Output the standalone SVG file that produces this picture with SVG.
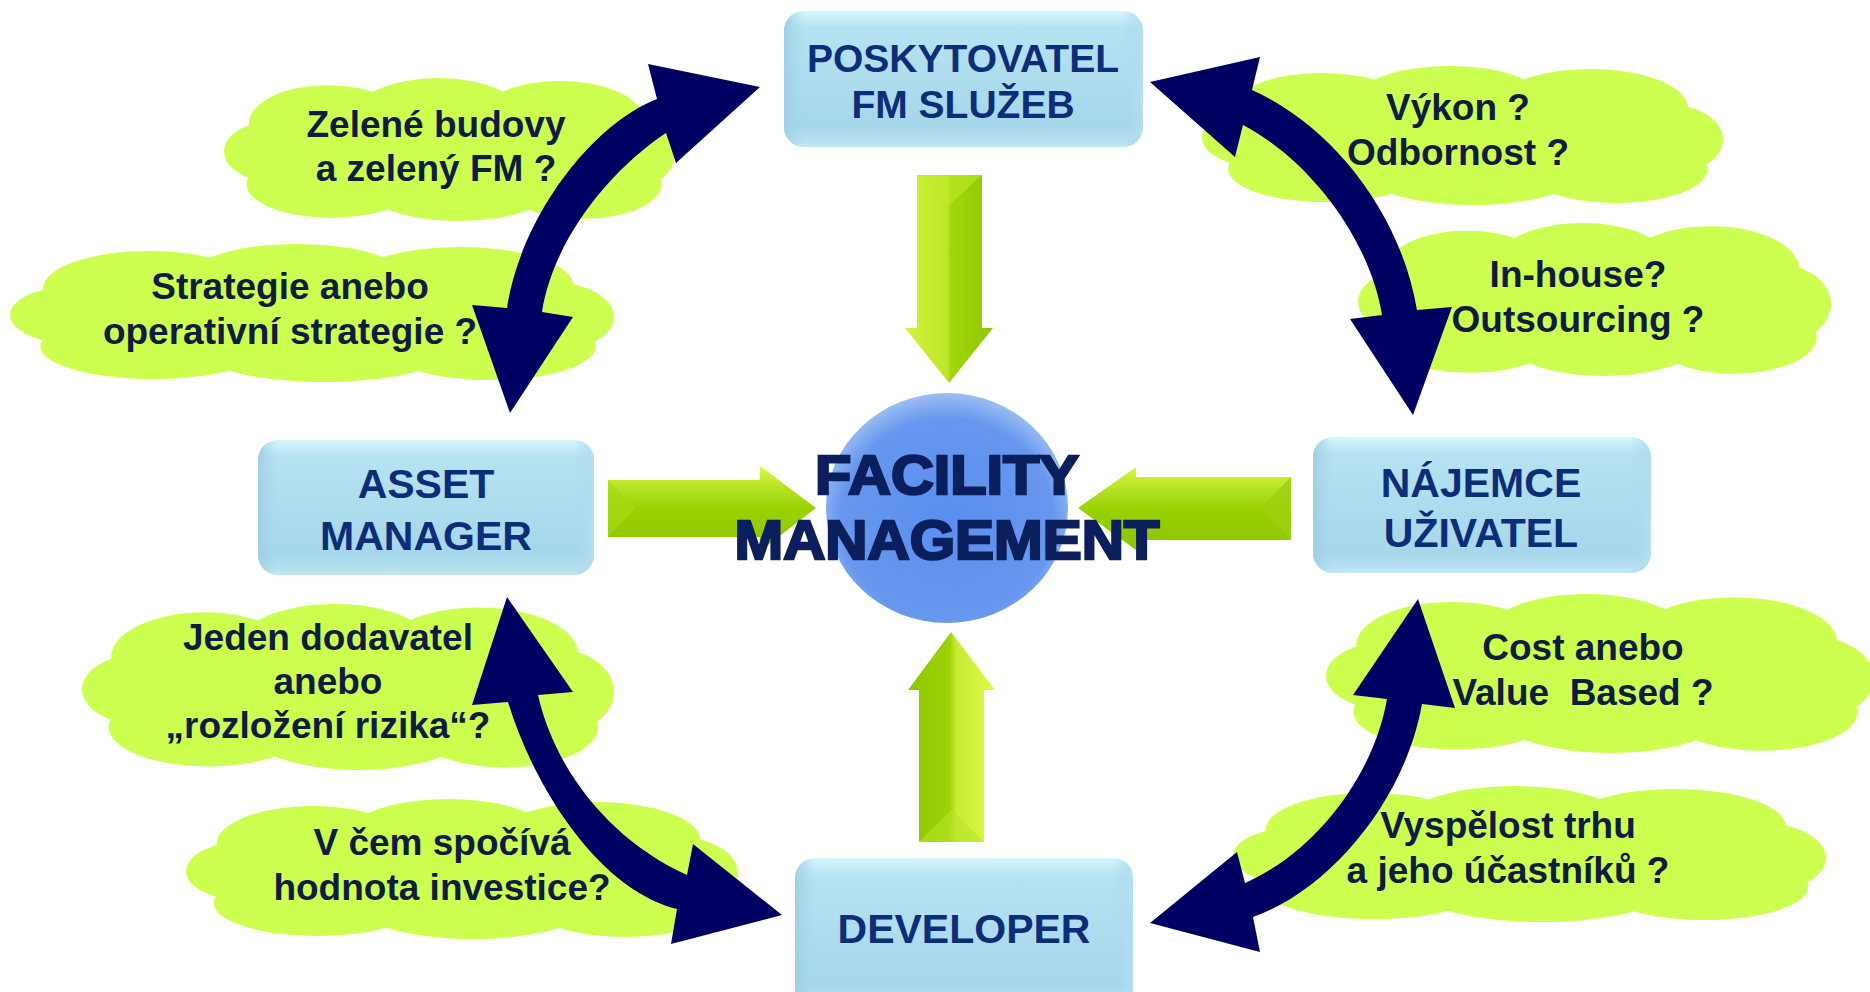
<svg xmlns="http://www.w3.org/2000/svg" xmlns:xlink="http://www.w3.org/1999/xlink" width="1870" height="992" viewBox="0 0 1870 992">
  <style>
    .cloud { fill: #ccff4f; }
    .ctext { font-family: "Liberation Sans", Arial, sans-serif; font-weight: bold; font-size: 37px; fill: #0f1c3f; text-anchor: middle; }
    .btext { font-family: "Liberation Sans", Arial, sans-serif; font-weight: bold; font-size: 41px; fill: #0b2d7a; text-anchor: middle; }
    .box { fill: url(#gBox); }
    .navy { fill: #000062; }
    .fm { font-family: "Liberation Sans", Arial, sans-serif; font-weight: bold; font-size: 55px; fill: #0a1f5c; stroke: #0a1f5c; stroke-width: 2.5; text-anchor: middle; }
  </style>
  <defs>
    <linearGradient id="gBox" x1="0" y1="0" x2="0" y2="1">
      <stop offset="0" stop-color="#d6f7fd"/>
      <stop offset="0.12" stop-color="#b6e3f2"/>
      <stop offset="0.85" stop-color="#a6d6ea"/>
      <stop offset="1" stop-color="#bfe6f3"/>
    </linearGradient>
    <linearGradient id="gBoxSide" x1="0" y1="0" x2="1" y2="0">
      <stop offset="0" stop-color="#9fcfe3"/>
      <stop offset="0.06" stop-color="#a9d8ec" stop-opacity="0"/>
      <stop offset="0.94" stop-color="#a9d8ec" stop-opacity="0"/>
      <stop offset="1" stop-color="#b4def0"/>
    </linearGradient>
    <linearGradient id="gLightLeft" x1="0" y1="0" x2="1" y2="0">
      <stop offset="0" stop-color="#d2f43c"/>
      <stop offset="0.48" stop-color="#bde62a"/>
      <stop offset="0.52" stop-color="#a2d60c"/>
      <stop offset="1" stop-color="#8cc800"/>
    </linearGradient>
    <linearGradient id="gLightRight" x1="0" y1="0" x2="1" y2="0">
      <stop offset="0" stop-color="#8cc800"/>
      <stop offset="0.48" stop-color="#9dd208"/>
      <stop offset="0.55" stop-color="#c6ec34"/>
      <stop offset="1" stop-color="#dcfa48"/>
    </linearGradient>
    <linearGradient id="gLightTop" x1="0" y1="0" x2="0" y2="1">
      <stop offset="0" stop-color="#d8fa40"/>
      <stop offset="0.3" stop-color="#b0e020"/>
      <stop offset="0.5" stop-color="#9ad200"/>
      <stop offset="1" stop-color="#8ac600"/>
    </linearGradient>
    <radialGradient id="gCircle" cx="0.5" cy="0.55" r="0.55">
      <stop offset="0" stop-color="#5a8ef0"/>
      <stop offset="0.8" stop-color="#6797ee"/>
      <stop offset="1" stop-color="#9cbff2"/>
    </radialGradient>
    <g id="cloudShape" class="cloud">
      <ellipse cx="200" cy="70" rx="170" ry="52"/>
      <ellipse cx="92" cy="45" rx="70" ry="38"/>
      <ellipse cx="190" cy="38" rx="75" ry="38"/>
      <ellipse cx="298" cy="42" rx="75" ry="39"/>
      <ellipse cx="356" cy="74" rx="44" ry="36"/>
      <ellipse cx="318" cy="104" rx="70" ry="34"/>
      <ellipse cx="208" cy="108" rx="82" ry="32"/>
      <ellipse cx="95" cy="104" rx="75" ry="33"/>
      <ellipse cx="45" cy="72" rx="45" ry="30"/>
    </g>
  </defs>

  <rect x="0" y="0" width="1870" height="992" fill="#ffffff"/>

  <!-- clouds -->
  <g id="cloud-zelene">
    <use xlink:href="#cloudShape" transform="translate(224,78) scale(1.1275,1.0214)"/>
    <text class="ctext" x="436" y="137">Zelené budovy</text>
    <text class="ctext" x="436" y="181">a zelený FM ?</text>
  </g>
  <g id="cloud-strategie">
    <use xlink:href="#cloudShape" transform="translate(10,244) scale(1.51,0.9857)"/>
    <text class="ctext" x="290" y="299">Strategie anebo</text>
    <text class="ctext" x="290" y="344">operativní strategie ?</text>
  </g>
  <g id="cloud-jeden">
    <use xlink:href="#cloudShape" transform="translate(82,604) scale(1.33,1.1857)"/>
    <text class="ctext" x="328" y="650">Jeden dodavatel</text>
    <text class="ctext" x="328" y="694">anebo</text>
    <text class="ctext" x="328" y="738">„rozložení rizika“?</text>
  </g>
  <g id="cloud-vcem">
    <use xlink:href="#cloudShape" transform="translate(186,799) scale(1.38,1.0)"/>
    <text class="ctext" x="442" y="855">V čem spočívá</text>
    <text class="ctext" x="442" y="900">hodnota investice?</text>
  </g>
  <g id="cloud-vykon">
    <use xlink:href="#cloudShape" transform="translate(1202,66) scale(1.3025,0.9929)"/>
    <text class="ctext" x="1458" y="120">Výkon ?</text>
    <text class="ctext" x="1458" y="165">Odbornost ?</text>
  </g>
  <g id="cloud-inhouse">
    <use xlink:href="#cloudShape" transform="translate(1358,223) scale(1.1825,1.0929)"/>
    <text class="ctext" x="1578" y="287">In-house?</text>
    <text class="ctext" x="1578" y="332">Outsourcing ?</text>
  </g>
  <g id="cloud-cost">
    <use xlink:href="#cloudShape" transform="translate(1326,594) scale(1.37,1.1357)"/>
    <text class="ctext" x="1583" y="660">Cost anebo</text>
    <text class="ctext" x="1583" y="705" xml:space="preserve">Value  Based ?</text>
  </g>
  <g id="cloud-vyspelost">
    <use xlink:href="#cloudShape" transform="translate(1233,786) scale(1.4825,0.9714)"/>
    <text class="ctext" x="1508" y="838">Vyspělost trhu</text>
    <text class="ctext" x="1508" y="883">a jeho účastníků ?</text>
  </g>

  <!-- connectors -->
  <g id="connectors">
    <path id="arrow-tl" class="navy" d="M 760,87 L 676,163 L 666,133 C 610,170 553,240 542,312 L 573,317 L 510,413 L 472,305 L 507,308 C 520,220 590,125 657,99 L 648,64 Z"/>
    <path id="arrow-tr" class="navy" d="M 1150,82 L 1260,57 L 1252,90 C 1330,125 1400,210 1417,310 L 1452,307 L 1413,415 L 1350,319 L 1382,315 C 1370,240 1310,160 1243,125 L 1235,157 Z"/>
    <path id="arrow-bl" class="navy" d="M 507,597 L 573,692 L 538,695 C 555,770 610,840 687,875 L 693,844 L 782,915 L 671,944 L 677,909 C 600,890 535,790 508,702 L 472,705 Z"/>
    <path id="arrow-br" class="navy" d="M 1418,599 L 1455,708 L 1422,704 C 1405,800 1330,890 1253,917 L 1260,952 L 1150,923 L 1237,852 L 1245,883 C 1320,850 1375,770 1387,699 L 1353,695 Z"/>

    <g id="green-down">
      <path fill="url(#gLightLeft)" d="M 917,175 L 982,175 L 982,328 L 993,328 L 949,383 L 905,328 L 917,328 Z"/>
      <path fill="#c4ea30" opacity="0.55" d="M 917,175 L 982,175 L 949,205 Z"/>
    </g>
    <g id="green-right">
      <path fill="url(#gLightTop)" d="M 608,480 L 760,480 L 760,466 L 816,508 L 760,551 L 760,537 L 608,537 Z"/>
      <path fill="#a6d812" opacity="0.7" d="M 608,480 L 636,508 L 608,537 Z"/>
    </g>
    <g id="green-left">
      <path fill="url(#gLightTop)" d="M 1291,477 L 1136,477 L 1136,467 L 1078,508 L 1136,550 L 1136,540 L 1291,540 Z"/>
      <path fill="#9ed010" opacity="0.8" d="M 1291,477 L 1260,508 L 1291,540 Z"/>
    </g>
    <g id="green-up">
      <path fill="url(#gLightRight)" d="M 919,842 L 919,690 L 908,690 L 951,632 L 995,690 L 984,690 L 984,842 Z"/>
      <path fill="#b8e428" opacity="0.6" d="M 919,842 L 951,810 L 984,842 Z"/>
    </g>
  </g>

  <!-- nodes -->
  <g id="node-poskytovatel">
    <rect class="box" x="784" y="11" width="359" height="136" rx="20"/>
    <rect x="784" y="11" width="359" height="136" rx="20" fill="url(#gBoxSide)"/>
    <text class="btext" x="963" y="72" style="font-size:39px">POSKYTOVATEL</text>
    <text class="btext" x="963" y="118" style="font-size:39px">FM SLUŽEB</text>
  </g>
  <g id="node-asset">
    <rect class="box" x="258" y="440" width="336" height="135" rx="20"/>
    <rect x="258" y="440" width="336" height="135" rx="20" fill="url(#gBoxSide)"/>
    <text class="btext" x="426" y="498">ASSET</text>
    <text class="btext" x="426" y="550">MANAGER</text>
  </g>
  <g id="node-najemce">
    <rect class="box" x="1313" y="437" width="338" height="136" rx="20"/>
    <rect x="1313" y="437" width="338" height="136" rx="20" fill="url(#gBoxSide)"/>
    <text class="btext" x="1481" y="497">NÁJEMCE</text>
    <text class="btext" x="1481" y="547">UŽIVATEL</text>
  </g>
  <g id="node-developer">
    <rect class="box" x="795" y="858" width="338" height="150" rx="20"/>
    <rect x="795" y="858" width="338" height="150" rx="20" fill="url(#gBoxSide)"/>
    <text class="btext" x="964" y="943">DEVELOPER</text>
  </g>
  <g id="node-fm">
    <ellipse cx="947" cy="508" rx="121" ry="115" fill="url(#gCircle)"/>
    <text class="fm" x="947" y="494" textLength="264" lengthAdjust="spacingAndGlyphs">FACILITY</text>
    <text class="fm" x="947" y="559" textLength="425" lengthAdjust="spacingAndGlyphs">MANAGEMENT</text>
  </g>
</svg>
